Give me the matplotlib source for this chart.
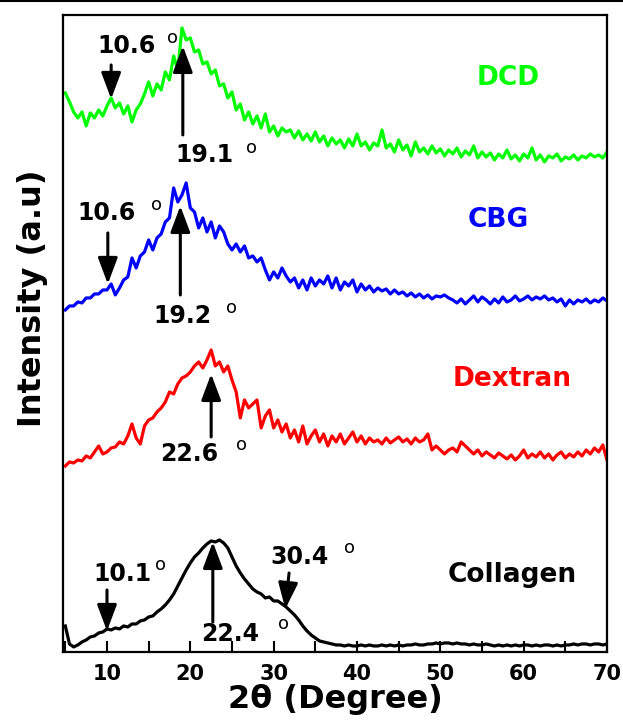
import matplotlib
matplotlib.use("Agg")
import matplotlib.pyplot as plt
import numpy as np
from matplotlib.lines import Line2D
from matplotlib.ticker import MultipleLocator, FuncFormatter

plt.rcParams["font.family"] = ["DejaVu Sans"]

# 2-theta grid, 0.5 degree steps from 5 to 70 (one row below = 5 degrees)
two_theta = np.arange(5.0, 70.25, 0.5)

# intensities (a.u., stacked offsets)
dcd = [
  559, 550, 540, 534, 540, 526, 539, 534, 542, 536,
  546, 554, 544, 549, 538, 546, 530, 542, 548, 558,
  570, 556, 568, 562, 580, 572, 596, 582, 624, 612,
  614, 600, 602, 588, 590, 578, 582, 566, 568, 554,
  560, 542, 548, 532, 540, 528, 536, 524, 538, 520,
  526, 516, 524, 520, 522, 514, 521, 512, 518, 511,
  520, 510, 516, 506, 514, 508, 512, 504, 513, 506,
  518, 506, 510, 502, 509, 506, 522, 504, 508, 500,
  512, 502, 507, 496, 510, 500, 504, 498, 506, 499,
  503, 496, 502, 498, 504, 495, 501, 497, 506, 494,
  500, 495, 499, 492, 498, 494, 502, 493, 497, 491,
  498, 494, 504, 492, 497, 490, 496, 494, 498, 491,
  495, 493, 497, 492, 496, 494, 498, 495, 497, 494,
  500]

cbg = [
  342, 346, 346, 350, 349, 354, 354, 358, 358, 362,
  362, 368, 357, 364, 372, 375, 394, 384, 396, 400,
  412, 402, 414, 418, 430, 434, 464, 450, 457, 469,
  444, 440, 424, 434, 420, 430, 414, 426, 420, 408,
  402, 408, 400, 406, 394, 396, 390, 394, 382, 372,
  380, 374, 384, 376, 370, 374, 364, 372, 362, 374,
  366, 372, 368, 376, 364, 374, 362, 370, 366, 372,
  360, 368, 362, 366, 360, 364, 361, 363, 358, 362,
  358, 360, 356, 359, 355, 358, 354, 357, 353, 356,
  355, 357, 354, 352, 349, 353, 348, 352, 356, 350,
  355, 352, 348, 353, 349, 355, 350, 352, 356, 351,
  353, 356, 352, 355, 353, 356, 352, 354, 350, 353,
  346, 352, 348, 352, 350, 353, 349, 352, 350, 354,
  351]

dextran = [
  186, 190, 189, 192, 191, 196, 194, 200, 206, 198,
  200, 204, 205, 210, 208, 216, 228, 214, 208, 226,
  232, 234, 240, 244, 250, 260, 258, 268, 274, 276,
  280, 286, 290, 284, 292, 302, 286, 290, 280, 286,
  272, 260, 234, 252, 244, 248, 252, 224, 236, 242,
  224, 232, 220, 228, 214, 222, 210, 226, 208, 216,
  222, 210, 218, 206, 216, 210, 218, 208, 214, 220,
  210, 216, 208, 214, 210, 212, 208, 214, 209, 212,
  215, 210, 213, 208, 214, 210, 212, 218, 202, 206,
  202, 198, 202, 204, 200, 210, 206, 202, 198, 202,
  196, 200, 197, 194, 199, 196, 193, 197, 192, 196,
  202, 194, 198, 195, 200, 194, 198, 192, 197, 200,
  194, 198, 195, 200, 196, 202, 198, 204, 200, 207,
  192]

collagen = [
  26, 8, 5, 7, 10, 12, 15, 16, 19, 20,
  23, 22, 24, 23, 26, 25, 28, 28, 31, 32,
  35, 36, 40, 43, 47, 52, 58, 66, 74, 82,
  89, 95, 99, 104, 108, 111, 110, 112, 109, 104,
  95, 86, 79, 73, 68, 63, 60, 58, 54, 55,
  51, 51, 48, 45, 41, 37, 32, 26, 21, 17,
  14, 11, 10, 9, 8, 7, 7, 6, 7, 6,
  6, 7, 6, 7, 6, 6, 7, 6, 7, 6,
  7, 6, 7, 7, 8, 7, 7, 8, 8, 9,
  8, 9, 9, 8, 9, 8, 8, 7, 8, 7,
  7, 8, 7, 6, 7, 6, 7, 6, 7, 6,
  7, 7, 6, 7, 6, 7, 7, 6, 7, 6,
  7, 7, 8, 7, 8, 8, 7, 8, 8, 7,
  8]

samples = ["DCD", "CBG", "Dextran", "Collagen"]
colors = ["#00ff00", "#0000ff", "#ff0000", "#000000"]
series = [dcd, cbg, dextran, collagen]

# peak markers: (label, arrow tail x, tail y, tip x, tip y, text x, text y)
peaks = [
  ("10.6", 10.5, 587, 10.5, 553, 12.4, 606),
  ("19.1", 19.1, 517, 19.1, 606, 21.75, 497),
  ("10.6", 10.1, 419, 10.1, 368, 10.0, 439),
  ("19.2", 18.8, 357, 18.8, 446, 19.1, 336),
  ("22.6", 22.5, 215, 22.5, 278, 19.85, 198),
  ("10.1", 10.0, 62, 10.0, 21, 11.9, 78),
  ("22.4", 22.7, 30, 22.7, 110, 24.8, 18),
  ("30.4", 31.85, 79, 31.4, 43, 33.15, 95),
]
degree_pos = [(17.9, 614), (27.3, 504), (16.0, 447), (24.9, 344),
              (26.1, 207), (16.4, 87), (31.2, 28), (39.1, 104)]
name_pos = [(58.1, 574), (57.0, 432), (58.6, 273), (58.6, 77)]


def main():
  fig = plt.figure(figsize=(6.23, 7.22), dpi=100)
  ax = fig.add_axes([0.1011, 0.097, 0.8732, 0.8823])

  for values, color in zip(series, colors):
    ax.plot(two_theta[:len(values)], values, color=color, lw=2.3)

  for label, x0, y0, x1, y1, tx, ty in peaks:
    ax.annotate("", xy=(x1, y1), xytext=(x0, y0),
                arrowprops=dict(arrowstyle="-|>,head_length=0.8,head_width=0.3",
                                color="black", lw=2.2, mutation_scale=20,
                                shrinkA=0, shrinkB=0))
    ax.text(tx, ty, label, fontsize=17, fontweight="bold",
            ha="center", va="center")
  for x, y in degree_pos:
    ax.text(x, y, "o", fontsize=13, ha="center", va="center")

  for name, color, (x, y) in zip(samples, colors, name_pos):
    ax.text(x, y, name, color=color, fontsize=19, fontweight="bold",
            ha="center", va="center")

  ax.set_xlim(4.72, 70)
  ax.set_ylim(0, 637)
  ax.xaxis.set_major_locator(MultipleLocator(5))
  ax.xaxis.set_major_formatter(
    FuncFormatter(lambda v, _: f"{v:.0f}" if round(v) % 10 == 0 else ""))
  ax.tick_params(axis="x", direction="in", length=8, width=1.5,
                 labelsize=15, pad=9)
  for lab in ax.get_xticklabels():
    lab.set_fontweight("bold")
  ax.set_yticks([])
  for spine in ax.spines.values():
    spine.set_linewidth(1.6)

  ax.set_xlabel("2θ (Degree)", fontsize=23, fontweight="bold", labelpad=0)
  ax.set_ylabel("Intensity (a.u)", fontsize=23, fontweight="bold")
  ax.yaxis.set_label_coords(-0.028, 0.555)

  fig.add_artist(Line2D([0, 1], [0.9985, 0.9985], color="black", lw=1.5,
                        transform=fig.transFigure))
  fig.savefig("out.png", dpi=100)


if __name__ == "__main__":
  main()
